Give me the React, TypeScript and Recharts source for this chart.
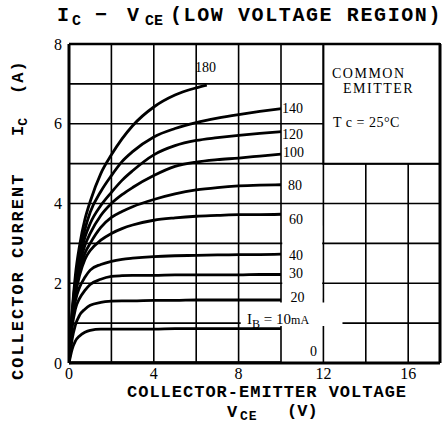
import React from 'react'
import { LineChart, Line, XAxis, YAxis, CartesianGrid, ReferenceLine, ReferenceArea, ReferenceDot } from 'recharts'

// collector-emitter voltage (V) shared by most curves
const vceGrid = [0, 0.15, 0.3, 0.5, 0.75, 1, 1.5, 2, 2.5, 3, 4, 5, 6, 7, 8, 9, 10]

// collector current (A) per base current
const ic0 = [0, 0.01, 0.01, 0.01, 0.01, 0.01, 0.01, 0.01, 0.01, 0.01, 0.01, 0.01, 0.01, 0.01, 0.01, 0.01, 0.01]
const ic10 = [0, 0.35, 0.55, 0.68, 0.77, 0.82, 0.85, 0.85, 0.85, 0.85, 0.85, 0.86, 0.86, 0.86, 0.86, 0.86, 0.86]
const ic20 = [0, 0.6, 0.95, 1.2, 1.35, 1.45, 1.52, 1.55, 1.56, 1.56, 1.57, 1.57, 1.58, 1.58, 1.58, 1.58, 1.58]
const ic30 = [0, 0.9, 1.35, 1.62, 1.82, 1.97, 2.1, 2.17, 2.19, 2.2, 2.2, 2.21, 2.21, 2.21, 2.21, 2.22, 2.22]
const ic40 = [0, 1.0, 1.55, 1.9, 2.15, 2.33, 2.47, 2.55, 2.6, 2.63, 2.67, 2.69, 2.7, 2.71, 2.72, 2.72, 2.73]
const ic60 = [0, 1.1, 1.7, 2.2, 2.6, 2.82, 3.08, 3.25, 3.37, 3.46, 3.58, 3.64, 3.68, 3.7, 3.72, 3.72, 3.73]
const ic80 = [0, 1.1, 1.75, 2.3, 2.75, 3.0, 3.4, 3.65, 3.8, 3.92, 4.1, 4.24, 4.34, 4.4, 4.44, 4.46, 4.47]
const ic100 = [0, 1.15, 1.85, 2.45, 2.95, 3.25, 3.7, 4.0, 4.22, 4.4, 4.7, 4.93, 5.04, 5.1, 5.14, 5.19, 5.24]
const ic120 = [0, 1.2, 1.95, 2.6, 3.15, 3.5, 3.95, 4.28, 4.58, 4.82, 5.22, 5.45, 5.58, 5.65, 5.71, 5.76, 5.8]
const ic140 = [0, 1.25, 2.05, 2.75, 3.35, 3.78, 4.3, 4.7, 5.05, 5.3, 5.67, 5.88, 6.03, 6.14, 6.23, 6.31, 6.38]

// the 180 mA curve stops early
const vce180 = [0, 0.15, 0.3, 0.5, 0.75, 1, 1.5, 2, 2.5, 3, 4, 5, 6, 6.5]
const ic180 = [0, 1.3, 2.2, 2.95, 3.6, 4.05, 4.75, 5.22, 5.62, 5.95, 6.42, 6.72, 6.9, 6.97]

const xTicks = [0, 2, 4, 6, 8, 10, 12, 14, 16]
const yTicks = [0, 1, 2, 3, 4, 5, 6, 7, 8]

// curve labels (mA) and where they sit, in data units
const curveLabels = ['180', '140', '120', '100', '80', '60', '40', '30', '20', '0']
const labelVce = [5.94, 10.05, 10.05, 10.1, 10.33, 10.38, 10.38, 10.38, 10.45, 11.37]
const labelIc = [7.41, 6.39, 5.74, 5.3, 4.46, 3.61, 2.7, 2.25, 1.66, 0.3]

const toRows = (vce: number[], ic: number[]) => vce.map((v, k) => ({ vce: v, ic: ic[k] }))

const series = [
    { name: '0', rows: toRows(vceGrid, ic0) },
    { name: '10', rows: toRows(vceGrid, ic10) },
    { name: '20', rows: toRows(vceGrid, ic20) },
    { name: '30', rows: toRows(vceGrid, ic30) },
    { name: '40', rows: toRows(vceGrid, ic40) },
    { name: '60', rows: toRows(vceGrid, ic60) },
    { name: '80', rows: toRows(vceGrid, ic80) },
    { name: '100', rows: toRows(vceGrid, ic100) },
    { name: '120', rows: toRows(vceGrid, ic120) },
    { name: '140', rows: toRows(vceGrid, ic140) },
    { name: '180', rows: toRows(vce180, ic180) },
]

const MONO = '"Liberation Mono", "DejaVu Sans Mono", monospace'
const SERIF = '"Liberation Serif", "DejaVu Serif", serif'

const App = () => {
    return (
        <div style={{ position: 'absolute', left: 0, top: 0, width: 445, height: 425, background: '#fff' }}>
            <LineChart width={445} height={425} margin={{ top: 44, right: 5, bottom: 0, left: 0 }}>
                <CartesianGrid stroke="#000" strokeWidth={1.6} />
                <XAxis
                    type="number"
                    dataKey="vce"
                    domain={[0, 17.5]}
                    ticks={xTicks}
                    allowDataOverflow
                    height={62}
                    tickLine={false}
                    tickSize={3}
                    axisLine={{ stroke: '#000', strokeWidth: 3 }}
                    tickFormatter={(v: number) => (v % 4 === 0 ? String(v) : '')}
                    tick={{ fill: '#000', fontSize: 16, fontFamily: SERIF }}
                />
                <YAxis
                    type="number"
                    domain={[0, 8]}
                    ticks={yTicks}
                    width={69}
                    tickLine={false}
                    tickSize={5}
                    axisLine={{ stroke: '#000', strokeWidth: 3 }}
                    tickFormatter={(v: number) => (v % 2 === 0 ? String(v) : '')}
                    tick={{ fill: '#000', fontSize: 16, fontFamily: SERIF }}
                />
                <ReferenceLine y={8} stroke="#000" strokeWidth={2.5} />
                <ReferenceLine x={17.5} stroke="#000" strokeWidth={3} />
                {/* blank spaces behind the labels */}
                <ReferenceArea x1={10.06} x2={11.94} y1={1.62} y2={3.45} fill="#fff" fillOpacity={1} stroke="none" />
                <ReferenceArea x1={8.1} x2={12.9} y1={0.93} y2={1.52} fill="#fff" fillOpacity={1} stroke="none" />
                <ReferenceArea x1={12} x2={17.5} y1={5} y2={8} fill="#fff" fillOpacity={1} stroke="#000" strokeWidth={2} />
                {series.map(s => (
                    <Line
                        key={s.name}
                        data={s.rows}
                        dataKey="ic"
                        type="monotone"
                        stroke="#000"
                        strokeWidth={2.8}
                        dot={false}
                        isAnimationActive={false}
                    />
                ))}
                {curveLabels.map((t, k) => (
                    <ReferenceDot
                        key={t}
                        x={labelVce[k]}
                        y={labelIc[k]}
                        r={0}
                        shape={(p: any) => (
                            <text x={p.cx} y={p.cy} dy="0.35em" fontFamily={SERIF} fontSize={14} fill="#000">{t}</text>
                        )}
                    />
                ))}
                <ReferenceDot
                    x={8.4}
                    y={1.1}
                    r={0}
                    shape={(p: any) => (
                        <text x={p.cx} y={p.cy} dy="0.35em" fontFamily={SERIF} fontSize={15} fill="#000">
                            I<tspan fontSize={12} dy={4}>B</tspan><tspan dy={-4}> = 10</tspan><tspan fontSize={12}>mA</tspan>
                        </text>
                    )}
                />
            </LineChart>
            <svg width={445} height={425} style={{ position: 'absolute', left: 0, top: 0, pointerEvents: 'none' }}>
                <text y={21} fontFamily={MONO} fontWeight="bold" fontSize={20} fill="#000">
                    <tspan x={57}>I</tspan>
                    <tspan x={72} dy={4} fontSize={15}>C</tspan>
                    <tspan x={95} dy={-4}>−</tspan>
                    <tspan x={127}>V</tspan>
                    <tspan x={145} dy={4} fontSize={15}>CE</tspan>
                    <tspan x={170} dy={-4} letterSpacing={1.6}>(LOW VOLTAGE REGION)</tspan>
                </text>
                <g fontFamily={SERIF} fontSize={14} fill="#000" letterSpacing={1.5}>
                    <text x={332} y={78}>COMMON</text>
                    <text x={343} y={93}>EMITTER</text>
                    <text x={333} y={127} letterSpacing={0.5}>T c = 25°C</text>
                </g>
                <text x={127} y={397} fontFamily={MONO} fontWeight="bold" fontSize={17} letterSpacing={1} fill="#000">COLLECTOR-EMITTER VOLTAGE</text>
                <text y={417} fontFamily={MONO} fontWeight="bold" fontSize={17} fill="#000">
                    <tspan x={227}>V</tspan>
                    <tspan x={240} dy={3} fontSize={13} letterSpacing={1}>CE</tspan>
                    <tspan x={287} dy={-4}>(V)</tspan>
                </text>
                <text x={23} y={380} transform="rotate(-90 23 380)" fontFamily={MONO} fontWeight="bold" fontSize={17} letterSpacing={2} fill="#000">COLLECTOR CURRENT</text>
                <text x={23} y={136} transform="rotate(-90 23 136)" fontFamily={MONO} fontWeight="bold" fontSize={17} fill="#000">
                    I<tspan dy={4} fontSize={13}>C</tspan>
                </text>
                <text x={23} y={94} transform="rotate(-90 23 94)" fontFamily={MONO} fontWeight="bold" fontSize={17} letterSpacing={1} fill="#000">(A)</text>
            </svg>
        </div>
    )
}

export default App
